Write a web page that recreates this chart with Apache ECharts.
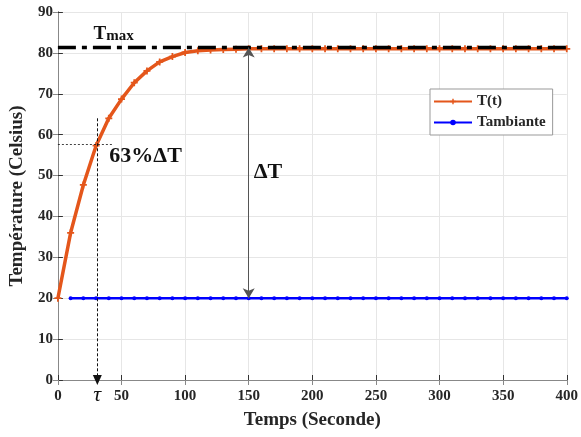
<!DOCTYPE html>
<html><head><meta charset="utf-8">
<script src="https://cdn.jsdelivr.net/npm/echarts@6/dist/echarts.min.js"></script>
<style>html,body{margin:0;padding:0;background:#fff}#c{width:581px;height:437px}</style>
</head><body><div id="c"></div>
<script>
// ---- data ----
const tTimes = [0,10,20,30,40,50,60,70,80,90,100,110,120,130,140,150,160,170,180,190,200,210,220,230,240,250,260,270,280,290,300,310,320,330,340,350,360,370,380,390,400];
const tValues = [20,36,47.7,57.3,64,68.7,72.7,75.6,77.8,79.1,80.1,80.5,80.7,80.8,80.9,81,81,81,81,81,81,81,81,81,81,81,81,81,81,81,81,81,81,81,81,81,81,81,81,81,81];
const ambTimes = [10,20,30,40,50,60,70,80,90,100,110,120,130,140,150,160,170,180,190,200,210,220,230,240,250,260,270,280,290,300,310,320,330,340,350,360,370,380,390,400];
const ambValues = [20,20,20,20,20,20,20,20,20,20,20,20,20,20,20,20,20,20,20,20,20,20,20,20,20,20,20,20,20,20,20,20,20,20,20,20,20,20,20,20];
const tMax = 81.3;
const tau = 31;
const tauValue = 57.6;
const tauTop = 64;
const tauHLineEnd = 44;
const deltaTTime = 150;
const tAmb = 20;
const xTicks = [0,50,100,150,200,250,300,350,400];
const yTicks = [0,10,20,30,40,50,60,70,80,90];

const FONT = "'Liberation Serif','Times New Roman',serif";
const chart = echarts.init(document.getElementById('c'));
const pair = (xs, ys) => xs.map((x, i) => [x, ys[i]]);
const plusPath = 'path://M-1,-4H1V-1H4V1H1V4H-1V1H-4V-1H-1Z';

const labelStyle = {fontFamily: FONT, fontWeight: 'bold', fontSize: 15, color: '#262626'};
chart.setOption({
  animation: false,
  grid: {left: 57, right: 14, top: 12, bottom: 57},
  legend: {
    data: ['T(t)', 'Tambiante'],
    orient: 'vertical', left: 430, top: 89,
    itemWidth: 38, itemHeight: 7, itemGap: 6,
    padding: [5, 7, 5, 3],
    borderColor: '#999', borderWidth: 1, backgroundColor: '#fff',
    textStyle: {fontFamily: FONT, fontWeight: 'bold', fontSize: 15, color: '#262626'}
  },
  xAxis: [{
    type: 'value', min: xTicks[0], max: xTicks[xTicks.length-1], interval: 50,
    name: 'Temps (Seconde)', nameLocation: 'middle', nameGap: 31,
    nameTextStyle: {fontFamily: FONT, fontWeight: 'bold', fontSize: 19, color: '#262626'},
    axisLine: {lineStyle: {color: '#333'}},
    axisTick: {inside: true, length: 5, lineStyle: {color: '#333'}},
    axisLabel: Object.assign({margin: 9}, labelStyle),
    splitLine: {show: true, lineStyle: {color: '#e6e6e6'}}
  }, {
    type: 'value', position: 'top', min: 0, max: 400, interval: 50,
    axisLine: {show: true, lineStyle: {color: '#888'}},
    axisTick: {inside: true, length: 5, lineStyle: {color: '#888'}},
    axisLabel: {show: false}, splitLine: {show: false}
  }],
  yAxis: [{
    type: 'value', min: yTicks[0], max: yTicks[yTicks.length-1], interval: 10,
    name: 'Température (Celsius)', nameLocation: 'middle', nameGap: 30,
    nameTextStyle: {fontFamily: FONT, fontWeight: 'bold', fontSize: 19, color: '#262626'},
    axisLine: {show: true, lineStyle: {color: '#333'}},
    axisTick: {show: true, inside: true, length: 5, lineStyle: {color: '#333'}},
    axisLabel: Object.assign({margin: 5}, labelStyle),
    splitLine: {show: true, lineStyle: {color: '#e6e6e6'}}
  }, {
    type: 'value', position: 'right', min: 0, max: 90, interval: 10,
    axisLine: {show: true, lineStyle: {color: '#888'}},
    axisTick: {show: true, inside: true, length: 5, lineStyle: {color: '#888'}},
    axisLabel: {show: false}, splitLine: {show: false}
  }],
  series: [
    {
      name: 'T(t)', type: 'line', data: pair(tTimes, tValues), z: 3,
      symbol: plusPath, symbolSize: 7, showAllSymbol: true,
      lineStyle: {color: '#E4561B', width: 3.5},
      itemStyle: {color: '#E4561B'},
      markLine: {
        silent: true, animation: false, label: {show: false},
        data: [
          [{coord: [tau, tauTop], symbol: 'none'}, {coord: [tau, 0], symbol: 'triangle', symbolSize: [9, 10], lineStyle: {color: '#111', type: [3, 2], width: 1}}],
          [{coord: [0, tauValue], symbol: 'none'}, {coord: [tauHLineEnd, tauValue], symbol: 'none', lineStyle: {color: '#111', type: [2, 2], width: 0.8}}]
        ],
        lineStyle: {color: '#111', type: [3, 2], width: 1}
      }
    },
    {
      name: 'Tambiante', type: 'line', data: pair(ambTimes, ambValues), z: 3,
      symbol: 'circle', symbolSize: 4, showAllSymbol: true,
      lineStyle: {color: '#0000FF', width: 2.5},
      itemStyle: {color: '#0000FF'}
    },
    {
      name: 'Tmax', type: 'line', data: [[xTicks[0], tMax], [xTicks[xTicks.length-1], tMax]], z: 4,
      symbol: 'none',
      lineStyle: {color: '#000', width: 3.5, type: [18, 6, 5, 6]},
      markLine: {
        silent: true, animation: false, label: {show: false},
        symbol: ['arrow', 'arrow'], symbolSize: [9, 10],
        lineStyle: {color: '#555', type: 'solid', width: 1},
        data: [[{coord: [deltaTTime, tMax]}, {coord: [deltaTTime, tAmb]}]]
      }
    }
  ]
});

const px = (x, y) => chart.convertToPixel({xAxisIndex: 0, yAxisIndex: 0}, [x, y]);
const pTmax = px(28, tMax);
const p63 = px(tau, tauValue);
const pDT = px(deltaTTime, (tMax + tAmb) / 2);
const pTau = px(tau, 0);
chart.setOption({
  graphic: [
    {type: 'text', left: pTmax[0], top: pTmax[1] - 23, style: {
      text: '{a|T}{b|max}',
      rich: {a: {fontFamily: FONT, fontWeight: 'bold', fontSize: 19, fill: '#111'},
             b: {fontFamily: FONT, fontWeight: 'bold', fontSize: 15, fill: '#111', verticalAlign: 'bottom'}}
    }},
    {type: 'text', left: p63[0] + 12, top: p63[1] + 1, style: {
      text: '63%ΔT', font: "bold 22px " + FONT, fill: '#111'}},
    {type: 'text', left: pDT[0] + 5, top: pDT[1] - 12, style: {
      text: 'ΔT', font: "bold 22px " + FONT, fill: '#111'}},
    {type: 'text', left: pTau[0] - 4, top: pTau[1] + 4, style: {
      text: 'τ', font: "italic 22px " + FONT, fill: '#111'}}
  ]
});
</script></body></html>
